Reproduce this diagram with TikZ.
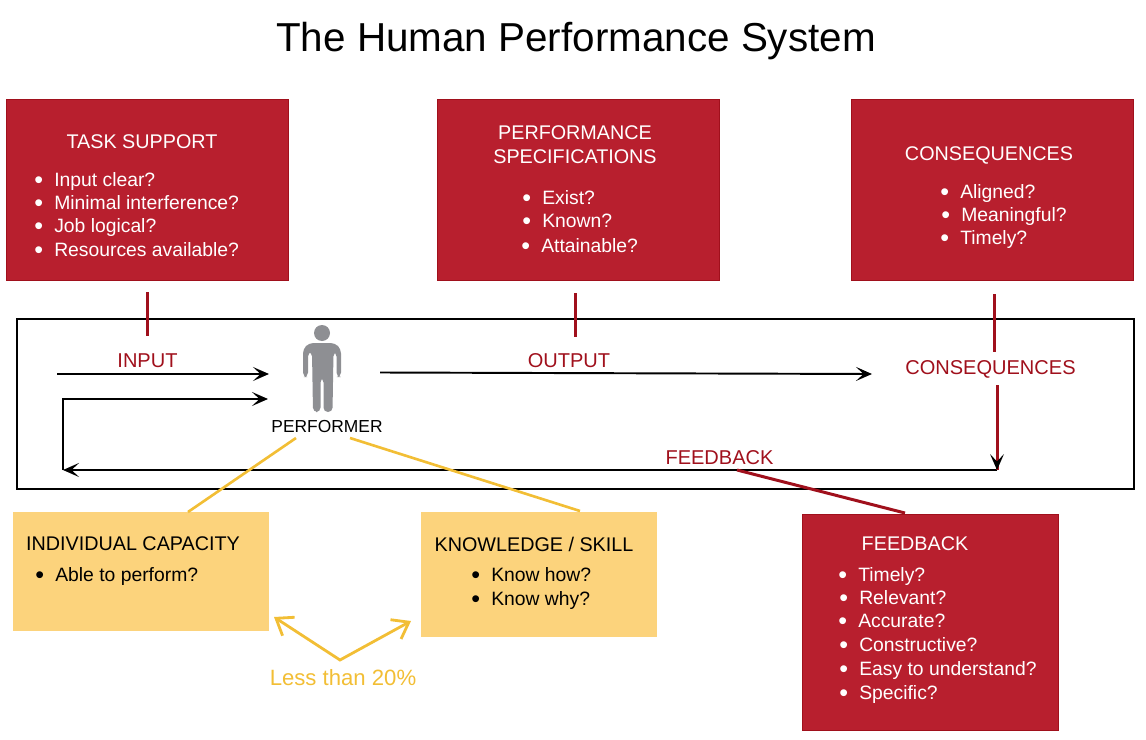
\documentclass[tikz,border=0pt]{standalone}
\usepackage{fontspec}
\setmainfont{Liberation Sans}
\usetikzlibrary{arrows.meta}
\definecolor{boxred}{HTML}{B81F2E}
\definecolor{tickred}{HTML}{A0101C}
\definecolor{ylw}{HTML}{F2BE35}
\definecolor{boxylw}{HTML}{FCD37C}
\definecolor{mangray}{HTML}{8E8F93}
\tikzset{
  redbox/.style  = {fill=boxred, draw=tickred, line width=0.3pt, anchor=north west},
  ylwbox/.style  = {fill=boxylw, anchor=north west},
  head/.style    = {font=\fontsize{11.25}{13.5}\selectfont, align=center},
  item/.style    = {font=\fontsize{11}{13}\selectfont, anchor=west, inner sep=0pt, text height=9pt, text depth=1.2pt},
  redlabel/.style= {font=\fontsize{11.4}{13}\selectfont, text=tickred},
  flow/.style    = {-{Stealth[length=3.2mm,width=2.8mm,inset=1.5mm]}, line width=1.1pt},
  tick/.style    = {tickred, line width=1.7pt},
  ylwline/.style = {ylw, line width=1.5pt},
}
\newcommand{\itm}[1]{\makebox[1.03em][l]{\raisebox{-0.06em}{\scalebox{1.3}{\textbullet}}}#1}
\begin{document}
\begin{tikzpicture}[x=0.02cm,y=-0.02cm]
  \useasboundingbox (0,0) rectangle (1146,740);
  % top row
  \node[font=\fontsize{23}{27}\selectfont] (title) at (576,41) {The Human Performance System};
  \node[redbox, minimum width=5.65cm, minimum height=3.62cm] (task) at (6,99) {};
  \node[redbox, minimum width=5.65cm, minimum height=3.62cm] (spec) at (437,99) {};
  \node[redbox, minimum width=5.65cm, minimum height=3.62cm] (cons) at (851,99) {};
  \node[head, white] (taskh) at (142,142) {TASK SUPPORT};
  \node[item, white] (t1) at (34,180) {\itm{Input clear?}};
  \node[item, white] (t2) at (34,203) {\itm{Minimal interference?}};
  \node[item, white] (t3) at (34,226) {\itm{Job logical?}};
  \node[item, white] (t4) at (34,250) {\itm{Resources available?}};
  \node[head, white] (spech) at (575,145) {PERFORMANCE\\SPECIFICATIONS};
  \node[item, white] (s1) at (522,198) {\itm{Exist?}};
  \node[item, white] (s2) at (522,221) {\itm{Known?}};
  \node[item, white] (s3) at (521,246) {\itm{Attainable?}};
  \node[head, white] (consh) at (989,155.5) {CONSEQUENCES};
  \node[item, white] (c1) at (940,192) {\itm{Aligned?}};
  \node[item, white] (c2) at (941,215) {\itm{Meaningful?}};
  \node[item, white] (c3) at (940,238) {\itm{Timely?}};
  % system frame
  \node[draw=black, line width=1.1pt, minimum width=22.34cm, minimum height=3.4cm, anchor=north west] (frame) at (16,318) {};
  \coordinate (in0) at (57,374);
  \coordinate (in1) at (269,374);
  \coordinate (back0) at (63,399);
  \coordinate (back1) at (268,399);
  \coordinate (back2) at (63,470);
  \coordinate (out0) at (380,372.5);
  \coordinate (out1) at (872,374);
  \coordinate (fbk0) at (997,470);
  \coordinate (fbk1) at (997,385);
  \draw[flow] (in0) -- (in1);
  \draw[flow] (back2) -- (back0) -- (back1);
  \draw[flow] (out0) -- (out1);
  \draw[flow] (fbk0) -- (back2);
  \draw[tick] (fbk1) -- (fbk0);
  \draw[flow, line width=0pt, draw=black] (997,462) -- (fbk0);
  % ticks
  \coordinate (tk1a) at (147.5,292);
  \coordinate (tk1b) at (147.5,336);
  \coordinate (tk2a) at (575,293);
  \coordinate (tk2b) at (575,337);
  \coordinate (tk3a) at (994.5,294);
  \coordinate (tk3b) at (994.5,352);
  \draw[tick] (tk1a) -- (tk1b);
  \draw[tick] (tk2a) -- (tk2b);
  \draw[tick] (tk3a) -- (tk3b);
  \node[redlabel] (input) at (147.5,361) {INPUT};
  \node[redlabel] (output) at (569,361) {OUTPUT};
  \node[redlabel] (conseq) at (990.5,369) {CONSEQUENCES};
  \node[redlabel] (fback) at (719.5,458) {FEEDBACK};
  % performer
  \fill[mangray] (322,333) circle (8);
  \fill[mangray, rounded corners=2.5pt] (309,343) -- (335,343) -- (341,349) -- (341,377) -- (336.5,377)
    -- (336.5,352) -- (333.5,352) -- (332.5,412) -- (323.5,412) -- (323.5,378) -- (320.5,378) -- (320.5,412)
    -- (313,412) -- (312,352) -- (308,352) -- (308,377) -- (303,377) -- (303,349) -- cycle;
  \node[font=\fontsize{9.9}{11}\selectfont, inner sep=0pt] (perf) at (327,427) {PERFORMER};
  % lower boxes
  \node[ylwbox, minimum width=5.12cm, minimum height=2.38cm] (indiv) at (13,512) {};
  \node[ylwbox, minimum width=4.72cm, minimum height=2.5cm] (know) at (421,512) {};
  \node[redbox, minimum width=5.12cm, minimum height=4.32cm] (fbox) at (802,514) {};
  \coordinate (p0) at (296,438);
  \coordinate (p1) at (188,512);
  \coordinate (p2) at (350,438);
  \coordinate (p3) at (580,511);
  \coordinate (f0) at (737,470);
  \coordinate (f1) at (905,513);
  \draw[ylwline] (p0) -- (p1);
  \draw[ylwline] (p2) -- (p3);
  \draw[tick] (f0) -- (f1);
  \node[head] (indivh) at (133,544) {INDIVIDUAL CAPACITY};
  \node[item] (i1) at (35,575) {\itm{Able to perform?}};
  \node[head] (knowh) at (534,544) {KNOWLEDGE / SKILL};
  \node[item] (k1) at (471,575) {\itm{Know how?}};
  \node[item] (k2) at (471,599) {\itm{Know why?}};
  \node[head, white] (fboxh) at (915,544) {FEEDBACK};
  \node[item, white] (b1) at (838,575) {\itm{Timely?}};
  \node[item, white] (b2) at (839,598) {\itm{Relevant?}};
  \node[item, white] (b3) at (838,621) {\itm{Accurate?}};
  \node[item, white] (b4) at (839,645) {\itm{Constructive?}};
  \node[item, white] (b5) at (839,669) {\itm{Easy to understand?}};
  \node[item, white] (b6) at (839,693) {\itm{Specific?}};
  % share arrows
  \coordinate (v) at (340,660);
  \coordinate (va) at (274,617);
  \coordinate (vb) at (411,621);
  \draw[ylw, line width=1.6pt, {Straight Barb[length=3mm,width=4.4mm]}-{Straight Barb[length=3mm,width=4.4mm]}] (va) -- (v) -- (vb);
  \node[font=\fontsize{12.6}{15}\selectfont, text=ylw] (less) at (343,678) {Less than 20\%};
\end{tikzpicture}
\end{document}
